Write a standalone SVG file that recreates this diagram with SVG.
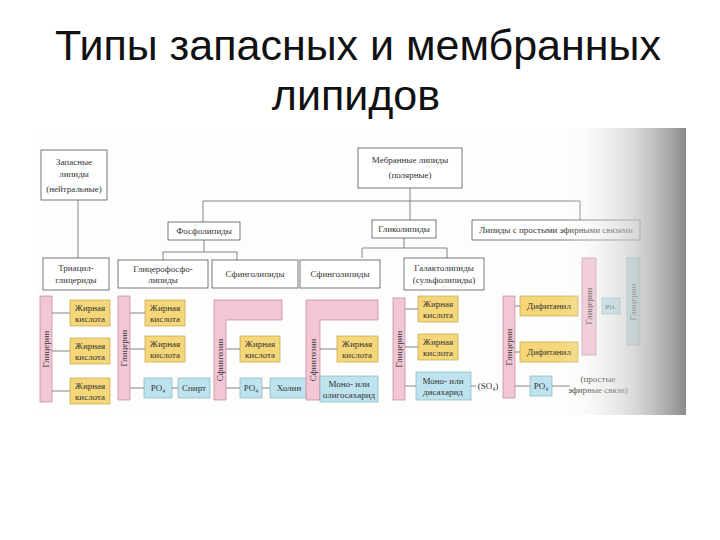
<svg xmlns="http://www.w3.org/2000/svg" width="720" height="540" viewBox="0 0 720 540">
<defs>
<linearGradient id="shade" x1="0" x2="1" y1="0" y2="0">
<stop offset="0" stop-color="#fff" stop-opacity="0"/>
<stop offset="0.6" stop-color="#c8c8c8" stop-opacity="0.7"/>
<stop offset="1" stop-color="#8a8a8a"/>
</linearGradient>
<style>
.t{font-family:"Liberation Serif",serif;font-size:9px;fill:#333;text-anchor:middle}
.b{fill:#fff;stroke:#555;stroke-width:0.8}
.y{fill:#f5d77a;stroke:#b89a40;stroke-width:0.6}
.c{fill:#bfe3ee;stroke:#7ab;stroke-width:0.6}
.p{fill:#f2c6d4;stroke:#b78;stroke-width:0.6}
.l{stroke:#666;stroke-width:0.8;fill:none}
.h{font-family:"Liberation Sans",Arial,sans-serif;font-size:43px;fill:#111;text-anchor:middle}
</style>
</defs>
<rect width="720" height="540" fill="#fff"/>
<text class="h" x="358" y="60">Типы запасных и мембранных</text>
<text class="h" x="356" y="110">липидов</text>
<rect x="38" y="128" width="648" height="287" fill="#fdfdfb"/>
<g id="connectors" class="l">
<path d="M78 200V258M203 201H580M203 201V222M410 188V220M580 201V220M204 240V252H163V260M204 252H237V260M404 238V248H362V258M404 248H447V258"/>
<path d="M52 313H70M52 351H70M52 391H70M130 313H145M130 349H145M130 388H144M172 388H178M226 349H240M226 388H240M262 388H270M320 349H337M320 389H318M405 309H418M405 347H418M405 386H416M471 386H476M515 306H520M515 352H520M515 386H530M552 386H570"/>
</g>
<g id="n-store"><rect class="b" x="41" y="150" width="66" height="50"/><text class="t" x="74" y="165">Запасные</text><text class="t" x="74" y="177">липиды</text><text class="t" x="74" y="192">(нейтральные)</text></g>
<g id="n-memb"><rect class="b" x="358" y="148" width="104" height="40"/><text class="t" x="410" y="163">Мебранные липиды</text><text class="t" x="410" y="178">(полярные)</text></g>
<g id="n-phos"><rect class="b" x="168" y="222" width="72" height="18"/><text class="t" x="204" y="234">Фосфолипиды</text></g>
<g id="n-glyco"><rect class="b" x="372" y="220" width="64" height="18"/><text class="t" x="404" y="232">Гликолипиды</text></g>
<g id="n-ether"><rect class="b" x="472" y="220" width="168" height="20"/><text class="t" x="556" y="233">Липиды с простыми эфирными связями</text></g>
<g id="n-tag"><rect class="b" x="43" y="258" width="66" height="32"/><text class="t" x="76" y="271">Триацил-</text><text class="t" x="76" y="283">глицериды</text></g>
<g id="n-gpl"><rect class="b" x="118" y="260" width="90" height="28"/><text class="t" x="163" y="272">Глицерофосфо-</text><text class="t" x="163" y="283">липиды</text></g>
<g id="n-sph1"><rect class="b" x="212" y="260" width="86" height="28"/><text class="t" x="255" y="277">Сфинголипиды</text></g>
<g id="n-sph2"><rect class="b" x="300" y="260" width="80" height="28"/><text class="t" x="340" y="277">Сфинголипиды</text></g>
<g id="n-gal"><rect class="b" x="404" y="258" width="80" height="32"/><text class="t" x="444" y="271">Галактолипиды</text><text class="t" x="444" y="283">(сульфолипиды)</text></g>
<g id="g1"><rect class="p" x="40" y="296" width="12" height="106"/><text class="t" transform="translate(49 349) rotate(-90)">Глицерин</text>
<rect class="y" x="70" y="300" width="40" height="26"/><text class="t" x="90" y="311">Жирная</text><text class="t" x="90" y="322">кислота</text>
<rect class="y" x="70" y="338" width="40" height="26"/><text class="t" x="90" y="349">Жирная</text><text class="t" x="90" y="360">кислота</text>
<rect class="y" x="70" y="378" width="40" height="26"/><text class="t" x="90" y="389">Жирная</text><text class="t" x="90" y="400">кислота</text></g>
<g id="g2"><rect class="p" x="118" y="296" width="12" height="104"/><text class="t" transform="translate(127 348) rotate(-90)">Глицерин</text>
<rect class="y" x="145" y="300" width="40" height="26"/><text class="t" x="165" y="311">Жирная</text><text class="t" x="165" y="322">кислота</text>
<rect class="y" x="145" y="336" width="40" height="26"/><text class="t" x="165" y="347">Жирная</text><text class="t" x="165" y="358">кислота</text>
<rect class="c" x="144" y="378" width="28" height="20"/><text class="t" x="158" y="391">PO₄</text>
<rect class="c" x="178" y="378" width="32" height="20"/><text class="t" x="194" y="391">Спирт</text></g>
<g id="g3"><path class="p" d="M214 300H282V320H226V400H214Z"/><text class="t" transform="translate(223 360) rotate(-90)">Сфингозин</text>
<rect class="y" x="240" y="336" width="40" height="26"/><text class="t" x="260" y="347">Жирная</text><text class="t" x="260" y="358">кислота</text>
<rect class="c" x="240" y="378" width="22" height="20"/><text class="t" x="251" y="391">PO₄</text>
<rect class="c" x="270" y="378" width="38" height="20"/><text class="t" x="289" y="391">Холин</text></g>
<g id="g4"><path class="p" d="M306 300H378V320H320V400H306Z"/><text class="t" transform="translate(316 360) rotate(-90)">Сфингозин</text>
<rect class="y" x="337" y="336" width="41" height="26"/><text class="t" x="357" y="347">Жирная</text><text class="t" x="357" y="358">кислота</text>
<rect class="c" x="320" y="376" width="58" height="26"/><text class="t" x="349" y="387">Моно- или</text><text class="t" x="349" y="398">олигосахарид</text></g>
<g id="g5"><rect class="p" x="393" y="298" width="12" height="102"/><text class="t" transform="translate(402 349) rotate(-90)">Глицерин</text>
<rect class="y" x="418" y="296" width="40" height="26"/><text class="t" x="438" y="307">Жирная</text><text class="t" x="438" y="318">кислота</text>
<rect class="y" x="418" y="334" width="40" height="26"/><text class="t" x="438" y="345">Жирная</text><text class="t" x="438" y="356">кислота</text>
<rect class="c" x="416" y="372" width="55" height="28"/><text class="t" x="443" y="384">Моно- или</text><text class="t" x="443" y="395">дисахарид</text>
<text class="t" x="488" y="389">(SO₄)</text></g>
<g id="g6"><rect class="p" x="503" y="296" width="12" height="102"/><text class="t" transform="translate(512 347) rotate(-90)">Глицерин</text>
<rect class="y" x="520" y="296" width="58" height="20"/><text class="t" x="549" y="309">Дифитанил</text>
<rect class="y" x="520" y="342" width="58" height="20"/><text class="t" x="549" y="355">Дифитанил</text>
<rect class="c" x="530" y="376" width="22" height="20"/><text class="t" x="541" y="389">PO₄</text>
<text class="t" x="598" y="382">(простые</text><text class="t" x="598" y="393">эфирные связи)</text></g>
<g id="g7"><rect class="p" x="582" y="258" width="14" height="97"/><text class="t" transform="translate(592 306) rotate(-90)">Глицерин</text>
<rect class="c" x="602" y="298" width="18" height="16"/><text class="t" x="611" y="309" style="font-size:7px">PO₄</text>
<rect class="c" x="627" y="258" width="13" height="87"/><text class="t" transform="translate(636 302) rotate(-90)">Глицерин</text></g>
<rect x="560" y="128" width="126" height="287" fill="url(#shade)"/>
</svg>
